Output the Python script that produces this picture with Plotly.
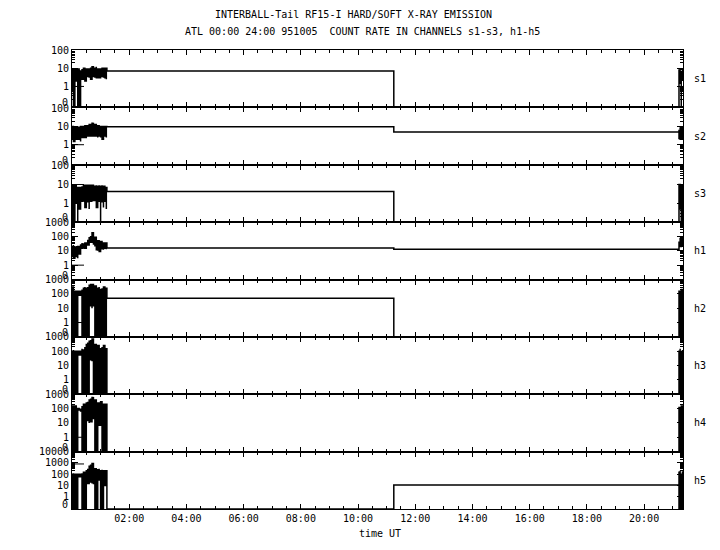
import math
import plotly.graph_objects as go
from plotly.subplots import make_subplots

# ---------------- data ----------------
channels = ["s1", "s2", "s3", "h1", "h2", "h3", "h4", "h5"]

# time axis (hours UT)
time_tickvals = [2, 4, 6, 8, 10, 12, 14, 16, 18, 20]
time_ticktext = ["02:00", "04:00", "06:00", "08:00", "10:00", "12:00", "14:00", "16:00", "18:00", "20:00"]
time_range = [0, 21.36]

# first data block: count-rate envelope (max / min) per ~3 min bin
noise_t = [0.00, 0.05, 0.10, 0.15, 0.20, 0.25, 0.30, 0.35, 0.40, 0.45, 0.50, 0.55, 0.60,
           0.65, 0.70, 0.75, 0.80, 0.85, 0.90, 0.95, 1.00, 1.05, 1.10, 1.15, 1.20]
gap_t = 1.22      # end of first block
step_t = 11.25    # level change inside data gap
init_end_t = 0.42
right_t = [21.22, 21.26, 21.30, 21.34]

s1_hi = [9, 10, 9, 8, 9, 8, 7, 9, 10, 11, 9, 10, 9, 11, 12, 11, 10, 12, 9, 10, 9, 11, 10, 9, 10]
s1_lo = [1, 0, 0, 2, 0, 0, 1.5, 2.5, 3, 2, 3, 3.5, 3, 2.5, 3, 3.5, 3, 3, 3.5, 3, 3, 3.5, 3, 3, 2.5]
s1_held = [7, 0]
s1_right_hi = [8, 10, 6, 9]
s1_right_lo = [0, 1.5, 0, 2]
s1_init = 1

s2_hi = [10, 9, 9, 10, 9, 8, 10, 11, 10, 12, 11, 12, 13, 12, 15, 16, 13, 12, 11, 12, 10, 11, 10, 9, 10]
s2_lo = [2, 1.5, 2, 2, 2.5, 2, 1.5, 2.5, 3, 2.5, 3, 3, 3.5, 3, 3, 3, 3.5, 3, 2.5, 3, 2.5, 2, 3, 3, 2.5]
s2_held = [9.6, 5]
s2_right_hi = [6, 9, 8, 7]
s2_right_lo = [2, 2, 3, 2]
s2_init = 1

s3_hi = [8, 10, 9, 8, 7, 6, 7, 8, 9, 8, 9, 10, 9, 8, 9, 10, 8, 9, 8, 9, 8, 9, 8, 8, 7]
s3_lo = [0, 0, 0, 1, 0, 0.5, 1.2, 1.3, 1.2, 0.6, 1.3, 1.2, 0.5, 1.3, 1.2, 1.4, 1.3, 0.6, 1.2, 1.3, 0, 1.2, 0.6, 1.3, 0.5]
s3_held = [4.3, 0]
s3_right_hi = [10, 8, 9, 10]
s3_right_lo = [0, 0.5, 0, 0]
s3_init = 10

h1_hi = [20, 25, 18, 22, 20, 15, 25, 35, 30, 40, 35, 60, 80, 110, 180, 150, 90, 70, 50, 40, 45, 40, 35, 40, 35]
h1_lo = [4, 3, 5, 4, 3, 6, 10, 15, 14, 15, 20, 25, 30, 40, 50, 30, 20, 12, 10, 9, 12, 14, 12, 15, 13]
h1_held = [16, 13]
h1_right_hi = [40, 80, 60, 50]
h1_right_lo = [15, 20, 25, 20]
h1_init = 1

h2_hi = [300, 200, 150, 100, 150, 120, 150, 200, 250, 300, 250, 300, 400, 500, 450, 400, 350, 300, 250, 300, 200, 250, 300, 200, 250]
h2_lo = [0, 0, 0, 0, 100, 80, 90, 0, 0, 0, 5, 0, 12, 15, 10, 15, 0, 0, 0, 0, 0, 0, 0, 0, 0]
h2_held = [50, 0]
h2_right_hi = [150, 100, 200, 120]
h2_right_lo = [0, 0, 0, 0]
h2_init = 1

h3_hi = [100, 120, 100, 80, 100, 90, 100, 150, 120, 200, 300, 400, 500, 600, 700, 500, 300, 200, 250, 200, 150, 200, 250, 200, 150]
h3_lo = [0, 0, 0, 0, 60, 55, 60, 0, 0, 0, 0, 0, 20, 25, 20, 0, 0, 0, 0, 0, 0, 0, 0, 0, 0]
h3_held = [0, 0]
h3_right_hi = [100, 150, 80, 120]
h3_right_lo = [0, 0, 0, 0]
h3_init = None

h4_hi = [150, 120, 150, 100, 100, 100, 90, 150, 200, 150, 250, 300, 400, 500, 600, 650, 400, 300, 250, 200, 300, 250, 200, 200, 200]
h4_lo = [0, 0, 0, 0, 70, 80, 60, 0, 0, 0, 0, 15, 10, 12, 15, 20, 0, 0, 0, 7, 7, 0, 0, 0, 0]
h4_held = [0, 0]
h4_right_hi = [120, 100, 150, 90]
h4_right_lo = [0, 0, 0, 0]
h4_init = 1

h5_hi = [100, 120, 100, 90, 100, 90, 100, 120, 150, 100, 200, 300, 500, 700, 900, 600, 300, 200, 250, 300, 200, 250, 200, 150, 200]
h5_lo = [0, 0, 0, 0, 70, 60, 60, 0, 0, 0, 0, 15, 15, 20, 15, 15, 0, 0, 30, 30, 0, 0, 0, 10, 10]
h5_held = [0, 11]
h5_right_hi = [150, 200, 100, 180]
h5_right_lo = [0, 0, 0, 0]
h5_init = 800

# y axis extents (log10 of count rate) per channel
y_top = [2, 2.05, 2.05, 3, 3, 3, 3, 4]
y_bottom = [-1.15, -1.1, -1.0, -1.0, -1.0, -1.0, -1.0, -1.1]

title1 = "INTERBALL-Tail RF15-I HARD/SOFT X-RAY EMISSION"
title2 = "ATL 00:00 24:00 951005\u00a0 COUNT RATE IN CHANNELS s1-s3, h1-h5"
xlabel = "time UT"

series = {
    "s1": (s1_hi, s1_lo, s1_held, s1_right_hi, s1_right_lo, s1_init),
    "s2": (s2_hi, s2_lo, s2_held, s2_right_hi, s2_right_lo, s2_init),
    "s3": (s3_hi, s3_lo, s3_held, s3_right_hi, s3_right_lo, s3_init),
    "h1": (h1_hi, h1_lo, h1_held, h1_right_hi, h1_right_lo, h1_init),
    "h2": (h2_hi, h2_lo, h2_held, h2_right_hi, h2_right_lo, h2_init),
    "h3": (h3_hi, h3_lo, h3_held, h3_right_hi, h3_right_lo, h3_init),
    "h4": (h4_hi, h4_lo, h4_held, h4_right_hi, h4_right_lo, h4_init),
    "h5": (h5_hi, h5_lo, h5_held, h5_right_hi, h5_right_lo, h5_init),
}

# ---------------- figure ----------------
FONT = "DejaVu Sans Mono"
n = len(channels)
fig = make_subplots(rows=n, cols=1, shared_xaxes=True, vertical_spacing=0)


def tr(v, bottom):
    return math.log10(v) if v > 0 else bottom


def zigzag(ts, hi, lo):
    xs, ys = [], []
    for i, t in enumerate(ts):
        pair = (lo[i], hi[i]) if i % 2 == 0 else (hi[i], lo[i])
        xs += [t, t]
        ys += list(pair)
    return xs, ys


for r, ch in enumerate(channels, start=1):
    hi, lo, held, rhi, rlo, init = series[ch]
    bot = y_bottom[r - 1]
    xs, ys = zigzag(noise_t, hi, lo)
    xs += [gap_t, step_t]
    ys += [held[0], held[1]]
    rx, ry = zigzag(right_t, rhi, rlo)
    xs += rx
    ys += ry
    fig.add_trace(go.Scatter(x=xs, y=[tr(v, bot) for v in ys], mode="lines",
                             line=dict(color="black", width=1.5, shape="hv"),
                             showlegend=False, hoverinfo="skip"), row=r, col=1)
    if init is not None:
        fig.add_trace(go.Scatter(x=[0, init_end_t], y=[tr(init, bot)] * 2, mode="lines",
                                 line=dict(color="black", width=1),
                                 showlegend=False, hoverinfo="skip"), row=r, col=1)

    top = y_top[r - 1]
    dec = list(range(0, int(math.floor(top)) + 1))
    minor_vals = [math.log10(m) + k for k in range(-1, int(math.floor(top)) + 1)
                  for m in range(2, 10) if math.log10(m) + k < top]
    fig.update_yaxes(row=r, col=1, range=[bot, top], tickmode="array",
                     tickvals=dec, ticktext=[str(10 ** d) for d in dec],
                     ticks="inside", ticklen=6, tickwidth=1, tickcolor="black",
                     showline=True, linecolor="black", linewidth=1, mirror="ticks",
                     showgrid=False, zeroline=False, automargin=False,
                     tickfont=dict(family=FONT, size=10, color="black"),
                     minor=dict(tickmode="array", tickvals=minor_vals, ticks="inside",
                                ticklen=3, tickwidth=1, tickcolor="black", showgrid=False))
    fig.update_xaxes(row=r, col=1, range=time_range, tickmode="array",
                     tickvals=time_tickvals, ticktext=time_ticktext,
                     ticks="inside", ticklen=5, tickwidth=1, tickcolor="black",
                     showline=True, linecolor="black", linewidth=1, mirror="ticks",
                     showgrid=False, zeroline=False, automargin=False,
                     showticklabels=(r == n),
                     tickfont=dict(family=FONT, size=10, color="black"),
                     minor=dict(dtick=0.5, tick0=0, ticks="inside", ticklen=3,
                                tickwidth=1, tickcolor="black", showgrid=False))

annotations = []
panel_h = 1.0 / n
PW, PH = 611, 459
for i, ch in enumerate(channels):
    y0 = 1 - (i + 1) * panel_h
    yref = "y" if i == 0 else "y%d" % (i + 1)
    # zero label placed slightly above the panel floor
    bot = y_bottom[i]
    top = y_top[i]
    zero_pos = bot + (top - bot) * 4.5 / (PH / n)
    annotations.append(dict(text="0", x=0, xref="paper", xanchor="right", xshift=-2,
                            y=zero_pos, yref=yref, yanchor="middle", showarrow=False,
                            font=dict(family=FONT, size=10, color="black")))
    annotations.append(dict(text=ch, x=1, xref="paper", xanchor="left", xshift=9,
                            y=y0 + panel_h / 2, yref="paper", yanchor="middle", showarrow=False,
                            font=dict(family=FONT, size=10, color="black")))

annotations.append(dict(text=title1, x=(353.5 - 72) / PW, xref="paper", xanchor="center",
                        y=1 + (50 - 15) / PH, yref="paper", yanchor="middle", showarrow=False,
                        font=dict(family=FONT, size=10, color="black")))
annotations.append(dict(text=title2, x=(362 - 72) / PW, xref="paper", xanchor="center",
                        y=1 + (50 - 32) / PH, yref="paper", yanchor="middle", showarrow=False,
                        font=dict(family=FONT, size=10, color="black")))
annotations.append(dict(text=xlabel, x=(379.5 - 72) / PW, xref="paper", xanchor="center",
                        y=(509 - 533) / PH, yref="paper", yanchor="middle", showarrow=False,
                        font=dict(family=FONT, size=10, color="black")))

# the page puts the figure 8px in from the top-left corner
fig.update_layout(template="none", width=712, height=542,
                  margin=dict(l=64, r=37, t=42, b=41, pad=0, autoexpand=False),
                  paper_bgcolor="white", plot_bgcolor="white",
                  font=dict(family=FONT, size=10, color="black"),
                  annotations=annotations, showlegend=False)

fig.write_html("out.html")
